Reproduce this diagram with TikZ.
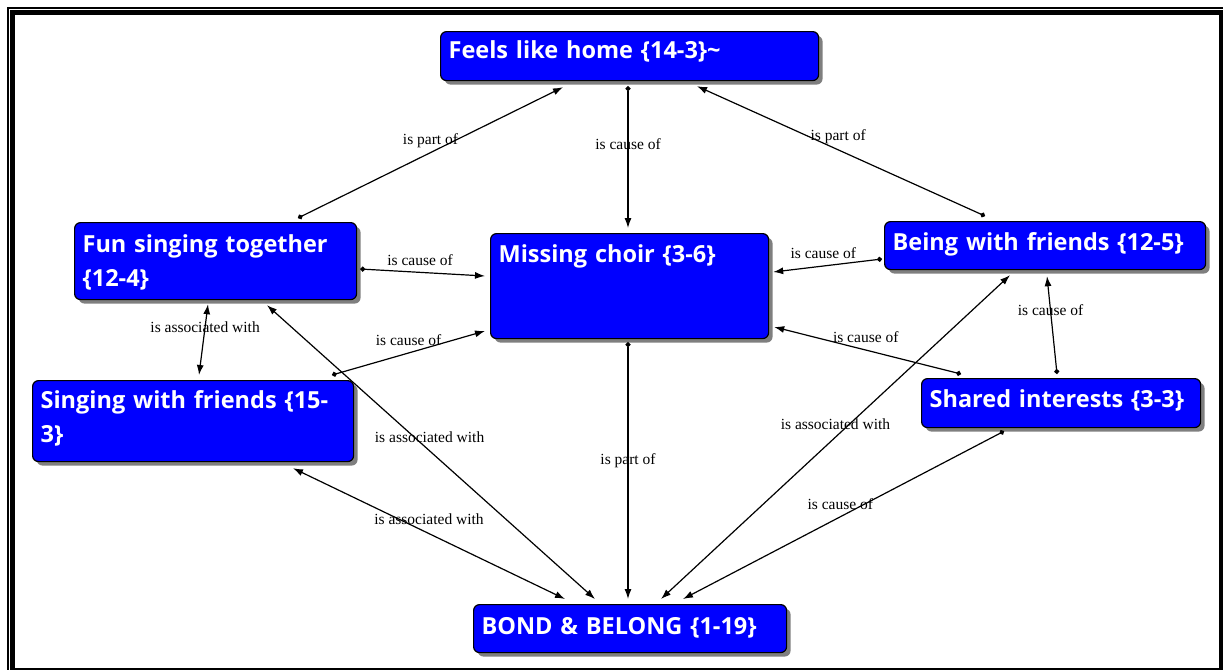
\documentclass[tikz,border=0pt]{standalone}
\usepackage{fontspec}
\setmainfont{Liberation Serif}
\newfontfamily\boxfont{Open Sans}
\usetikzlibrary{arrows.meta,shadows,calc}
\definecolor{cblue}{RGB}{0,0,255}

\begin{document}
\begin{tikzpicture}[x=1pt,y=-1pt,
  concept/.style={draw=black, line width=1.2pt, fill=cblue, rounded corners=6pt,
    anchor=north west, inner xsep=8pt, inner ysep=0pt, align=left, text=white,
    font=\boxfont\bfseries\fontsize{23.5}{34}\selectfont,
    drop shadow={shadow xshift=4pt, shadow yshift=-4pt, fill=black, opacity=0.5}},
  link/.style={line width=1.2pt, -{Latex[length=10pt,width=7pt]}},
  dotlink/.style={line width=1.2pt, {Circle[length=5pt]}-{Latex[length=10pt,width=7pt]}},
  twoway/.style={line width=1.2pt, {Latex[length=10pt,width=7pt]}-{Latex[length=10pt,width=7pt]}},
  lbl/.style={font=\fontsize{15.5}{17}\selectfont, inner sep=0pt}
]
\useasboundingbox (0,0) rectangle (1223,670);

% frame
\fill (7,7) rectangle (1223,8.5);
\fill (7,7) rectangle (8.5,670);
\fill (10,10) rectangle (1223,15);
\fill (10,10) rectangle (15,670);
\fill (1219,10) rectangle (1223,670);
\fill (10,667.5) rectangle (1223,670);

% concepts
\node[concept, text width=362pt, text height=27pt, text depth=22pt] (feels) at (440,31) {Feels like home \{14-3\}\textasciitilde};
\node[concept, text width=266pt, text height=30pt, text depth=47pt] (fun) at (74,222) {Fun singing together\\\{12-4\}};
\node[concept, text width=262pt, text height=29pt, text depth=76pt] (miss) at (490,233) {Missing choir \{3-6\}};
\node[concept, text width=305pt, text height=29pt, text depth=19pt] (being) at (884,221) {Being with friends \{12-5\}};
\node[concept, text width=263pt, text height=29pt, text depth=20pt] (shared) at (921,378) {Shared interests \{3-3\}};
\node[concept, text width=305pt, text height=28pt, text depth=53pt] (singing) at (32,380) {Singing with friends \{15-\\3\}};
\node[concept, text width=297pt, text height=30pt, text depth=18pt] (bond) at (473,604) {BOND \& BELONG \{1-19\}};

% links
\draw[dotlink] ($(fun.north west)+(224,-4)$) -- node[lbl, pos=0.5, yshift=12pt] {is part of} ($(feels.south west)+(123,6)$);
\draw[dotlink] ($(feels.south west)+(188,5)$) -- node[lbl, pos=0.41] {is cause of} ($(miss.north west)+(138,-5)$);
\draw[dotlink] ($(being.north west)+(101,-5)$) -- node[lbl, pos=0.51, yshift=13pt] {is part of} ($(feels.south west)+(257,5)$);
\draw[dotlink] ($(fun.north east)+(3,47)$) -- node[lbl, pos=0.48, yshift=12pt] {is cause of} ($(miss.north west)+(-5,43)$);
\draw[dotlink] ($(being.north west)+(-2,38)$) -- node[lbl, pos=0.54, yshift=13pt] {is cause of} ($(miss.north east)+(4,39)$);
\draw[twoway] ($(singing.north west)+(167,-5)$) -- node[lbl, pos=0.68] {is associated with} ($(fun.south west)+(134,4)$);
\draw[dotlink] ($(singing.north west)+(300,-5)$) -- node[lbl, pos=0.5, yshift=13pt] {is cause of} ($(miss.north west)+(-5,98)$);
\draw[twoway] ($(fun.south west)+(193,5)$) -- node[lbl, pos=0.45, xshift=15pt] {is associated with} ($(bond.north west)+(122,-5)$);
\draw[twoway] ($(singing.south west)+(261,6)$) -- node[lbl, pos=0.5, yshift=14pt] {is associated with} ($(bond.north west)+(92,-5)$);
\draw[dotlink] ($(miss.south west)+(138,3)$) -- node[lbl, pos=0.46] {is part of} ($(bond.north west)+(155,-5)$);
\draw[twoway] ($(bond.north west)+(188,-5)$) -- node[lbl, pos=0.54, xshift=-14pt] {is associated with} ($(being.south west)+(126,5)$);
\draw[dotlink] ($(shared.south west)+(83,3)$) -- node[lbl, pos=0.51, yshift=13pt] {is cause of} ($(bond.north west)+(210,-5)$);
\draw[dotlink] ($(shared.north west)+(40,-4)$) -- node[lbl, pos=0.51, yshift=13pt] {is cause of} ($(miss.north east)+(5,94)$);
\draw[dotlink] ($(shared.north west)+(136,-4)$) -- node[lbl, pos=0.65] {is cause of} ($(being.south west)+(163,6)$);
\end{tikzpicture}
\end{document}
